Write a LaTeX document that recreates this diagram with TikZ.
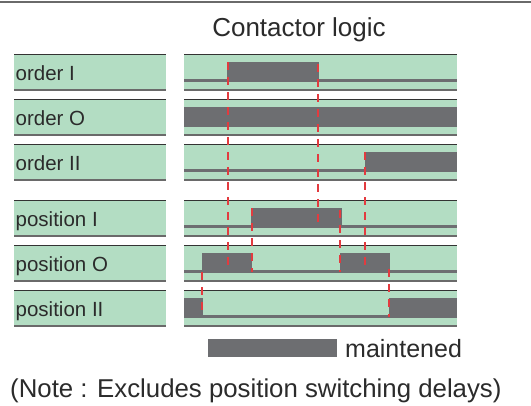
\documentclass[tikz,border=0pt]{standalone}
\usepackage{fontspec}
\setmainfont{Liberation Sans}
\definecolor{rowgreen}{HTML}{B3DDC3}
\definecolor{siggray}{HTML}{6D6E71}
\definecolor{dashred}{HTML}{E23B3F}
\definecolor{txt}{HTML}{2B2B2B}
\definecolor{topcol}{HTML}{333333}
\definecolor{botcol}{HTML}{6A6A6A}
\tikzset{
  rowfill/.style={fill=rowgreen},
  topline/.style={draw=topcol, line width=1pt},
  botline/.style={draw=botcol, line width=1.3pt},
  sig/.style={fill=siggray},
  reddash/.style={draw=dashred, line width=1.4pt, dash pattern=on 7.5pt off 7.5pt},
  lbl/.style={anchor=base west, inner sep=0pt, text=txt, font=\fontsize{20.5}{24}\selectfont},
  big/.style={inner sep=0pt, text=txt, font=\fontsize{26}{30}\selectfont}
}
\begin{document}
\begin{tikzpicture}[x=1pt,y=-1pt]
\useasboundingbox (0,0) rectangle (531,405);
\fill[white] (0,0) rectangle (531,405);
% top rule
\draw[draw=botcol, line width=1.5pt] (0,2) -- (531,2);
% title
\node[big, anchor=base] (title) at (299,36.5) {Contactor logic};
% rows
\foreach \t in {54,99,144,200,245,290} {
  \fill[rowfill] (14,\t) rectangle (166,\t+36);
  \fill[rowfill] (184,\t) rectangle (457,\t+36);
  \draw[topline] (14,\t) -- (166,\t);
  \draw[topline] (184,\t) -- (457,\t);
  \draw[botline] (14,\t+36) -- (166,\t+36);
  \draw[botline] (184,\t+36) -- (457,\t+36);
}
% labels
\node[lbl] (lo1) at (15.5,80.5) {order I};
\node[lbl] (lo2) at (15.5,125.5) {order O};
\node[lbl] (lo3) at (15.5,170.5) {order II};
\node[lbl] (lp1) at (15.5,226.5) {position I};
\node[lbl] (lp2) at (15.5,271.5) {position O};
\node[lbl] (lp3) at (15.5,316.5) {position II};
% signals: order I
\fill[sig] (184,54+25) rectangle (457,54+27.5);
\fill[sig] (227,54+8) rectangle (319,54+27.5);
% order O
\fill[sig] (184,99+8) rectangle (457,99+27.5);
% order II
\fill[sig] (184,144+25) rectangle (457,144+27.5);
\fill[sig] (365,144+8) rectangle (457,144+27.5);
% position I
\fill[sig] (184,200+25) rectangle (457,200+27.5);
\fill[sig] (251,200+8) rectangle (341.5,200+27.5);
% position O
\fill[sig] (184,245+25) rectangle (457,245+27.5);
\fill[sig] (202,245+8) rectangle (252,245+27.5);
\fill[sig] (340,245+8) rectangle (390,245+27.5);
% position II
\fill[sig] (184,290+25) rectangle (457,290+27.5);
\fill[sig] (184,290+8) rectangle (202.5,290+27.5);
\fill[sig] (389,290+8) rectangle (457,290+27.5);
% red dashed event lines
\draw[reddash] (228,62) -- (228,272);
\draw[reddash] (318,64) -- (318,226);
\draw[reddash] (365,152) -- (365,272);
\draw[reddash] (252,208) -- (252,272);
\draw[reddash] (340,210) -- (340,272);
\draw[reddash] (202,272) -- (202,317);
\draw[reddash] (389,269) -- (389,317);
% legend
\fill[sig] (208,339) rectangle (337,357);
\node[big, anchor=base west, font=\fontsize{25}{29}\selectfont] (leg) at (345,357.5) {maintened};
% note
\node[big, anchor=base west, font=\fontsize{25.8}{30}\selectfont] (note) at (10,397.5) {(Note : Excludes position switching delays)};
\end{tikzpicture}
\end{document}
